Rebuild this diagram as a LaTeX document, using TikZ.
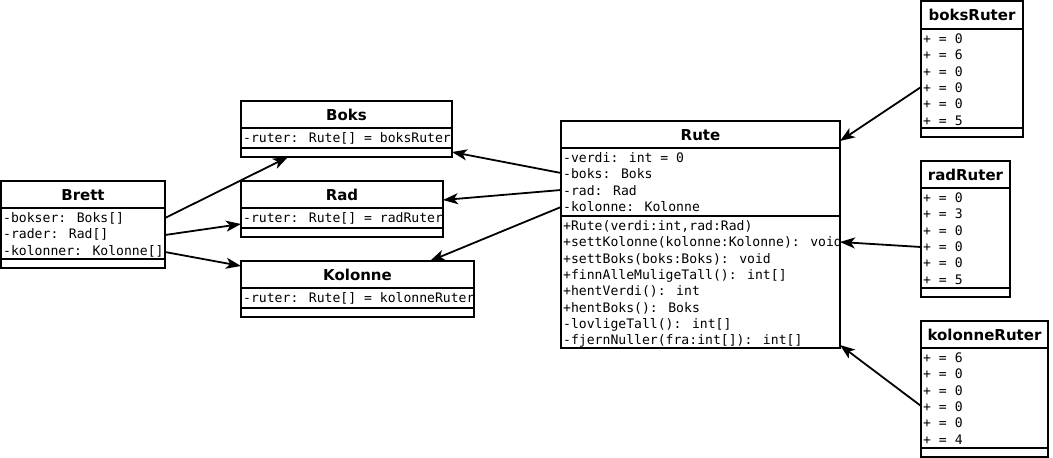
\documentclass[tikz,border=0pt]{standalone}
\usepackage{fontspec}
\setmainfont{DejaVu Sans}
\newfontfamily\monof{DejaVu Sans Mono}
\usetikzlibrary{arrows.meta}
\tikzset{
  classbox/.style={draw, line width=2pt, inner sep=0pt, outer sep=0pt},
  sepline/.style={line width=2pt},
  ctitle/.style={font=\fontsize{15}{18}\selectfont\bfseries, inner sep=0pt, anchor=base},
  member/.style={font=\monof\fontsize{13.1}{16}\selectfont, inner sep=0pt, anchor=base west},
  assoc/.style={line width=1.8pt, -{Stealth[length=15pt,width=11pt,inset=4pt]}},
}
% name, title, x1, y1, x2, y2, sep1, sep2
\newcommand\umlclass[8]{%
  \node[classbox, minimum width={#5pt-#3pt}, minimum height={#6pt-#4pt}] (#1) at ({(#3+#5)/2},{(#4+#6)/2}) {};
  \draw[sepline] (#3,#7) -- (#5,#7);
  \draw[sepline] (#3,#8) -- (#5,#8);
  \node[ctitle] (#1-title) at ({(#3+#5)/2},{#4+19}) {#2};
}
\begin{document}
\begin{tikzpicture}[x=1pt,y=-1pt]
\useasboundingbox (0,0) rectangle (1053,458);
\fill[white] (0,0) rectangle (1053,458);

\umlclass{brett}{Brett}{1}{181}{165}{268}{208}{259}
\foreach \t [count=\i] in {{-bokser: Boks[]},{-rader: Rad[]},{-kolonner: Kolonne[]}}
  \node[member] (brett-\i) at (3,{208+14.5+16.3*(\i-1)}) {\t};

\umlclass{boks}{Boks}{241}{101}{452}{157}{128}{148}
\node[member] (boks-1) at (243,{128+14.5}) {-ruter: Rute[] = boksRuter};

\umlclass{rad}{Rad}{241}{181}{443}{237}{208}{228}
\node[member] (rad-1) at (243,{208+14.5}) {-ruter: Rute[] = radRuter};

\umlclass{kolonne}{Kolonne}{241}{261}{474}{317}{288}{308}
\node[member] (kolonne-1) at (243,{288+14.5}) {-ruter: Rute[] = kolonneRuter};

\umlclass{rute}{Rute}{561}{121}{840}{348}{148}{216}
\foreach \t [count=\i] in {{-verdi: int = 0},{-boks: Boks},{-rad: Rad},{-kolonne: Kolonne}}
  \node[member] (rute-a\i) at (563,{148+14.5+16.3*(\i-1)}) {\t};
\foreach \t [count=\i] in {{+Rute(verdi:int,rad:Rad)},{+settKolonne(kolonne:Kolonne): void},{+settBoks(boks:Boks): void},{+finnAlleMuligeTall(): int[]},{+hentVerdi(): int},{+hentBoks(): Boks},{-lovligeTall(): int[]},{-fjernNuller(fra:int[]): int[]}}
  \node[member] (rute-m\i) at (563,{216+14.5+16.3*(\i-1)}) {\t};

\umlclass{boksRuter}{boksRuter}{921}{1}{1023}{137}{29}{128}
\foreach \t [count=\i] in {{+ = 0},{+ = 6},{+ = 0},{+ = 0},{+ = 0},{+ = 5}}
  \node[member] (boksRuter-\i) at (923,{29+14.5+16.3*(\i-1)}) {\t};

\umlclass{radRuter}{radRuter}{921}{161}{1010}{297}{188}{288}
\foreach \t [count=\i] in {{+ = 0},{+ = 3},{+ = 0},{+ = 0},{+ = 0},{+ = 5}}
  \node[member] (radRuter-\i) at (923,{188+14.5+16.3*(\i-1)}) {\t};

\umlclass{kolonneRuter}{kolonneRuter}{921}{321}{1048}{457}{348}{448}
\foreach \t [count=\i] in {{+ = 6},{+ = 0},{+ = 0},{+ = 0},{+ = 0},{+ = 4}}
  \node[member] (kolonneRuter-\i) at (923,{348+14.5+16.3*(\i-1)}) {\t};

% connectors
\draw[assoc] (brett.east |- 0,218) -- (288,0 |- boks.south);
\draw[assoc] (brett.east |- 0,235) -- (rad.west |- 0,224);
\draw[assoc] (brett.east |- 0,252) -- (kolonne.west |- 0,266);
\draw[assoc] (rute.west |- 0,173) -- (boks.east |- 0,152);
\draw[assoc] (rute.west |- 0,190) -- (rad.east |- 0,200);
\draw[assoc] (rute.west |- 0,207) -- (430,0 |- kolonne.north);
\draw[assoc] (boksRuter.west |- 0,87) -- (rute.east |- 0,141);
\draw[assoc] (radRuter.west |- 0,247) -- (rute.east |- 0,242);
\draw[assoc] (kolonneRuter.west |- 0,406) -- (rute.east |- 0,345);
\end{tikzpicture}
\end{document}
